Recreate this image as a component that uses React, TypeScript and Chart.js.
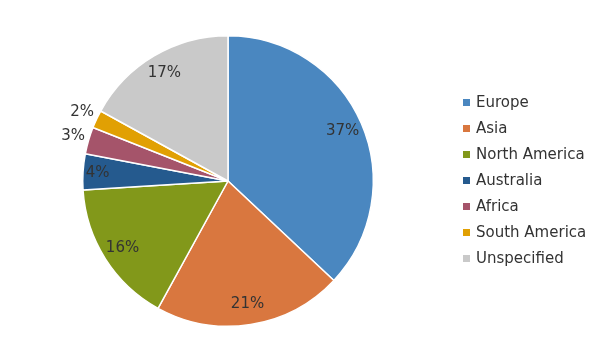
import React, { useEffect, useRef } from "react";
import { Chart, registerables } from "chart.js";

Chart.register(...registerables);

const regions = ["Europe", "Asia", "North America", "Australia", "Africa", "South America", "Unspecified"];
const shares = [37, 21, 16, 4, 3, 2, 17];
const sliceColors = ["#4a87c0", "#d9773f", "#82981a", "#255a8e", "#a5546a", "#e1a003", "#c9c9c9"];

const FONT = '"DejaVu Sans", sans-serif';
const TEXT_COLOR = "#333333";

const pctLabelPlugin = {
  id: "pctLabels",
  afterDatasetsDraw(chart: any) {
    const ctx = chart.ctx;
    const meta = chart.getDatasetMeta(0);
    ctx.save();
    ctx.font = `15px ${FONT}`;
    ctx.fillStyle = TEXT_COLOR;
    ctx.textAlign = "center";
    ctx.textBaseline = "middle";
    meta.data.forEach((arc: any, i: number) => {
      const p = arc.getProps(["x", "y", "startAngle", "endAngle", "outerRadius"], true);
      const mid = (p.startAngle + p.endAngle) / 2;
      const v = shares[i];
      const f = v < 4 ? 1.11 : v === 4 ? 0.9 : 0.86;
      const r = p.outerRadius * f;
      ctx.fillText(`${v}%`, p.x + Math.cos(mid) * r, p.y + Math.sin(mid) * r);
    });
    ctx.restore();
  },
};

const legendPlugin = {
  id: "sideLegend",
  afterDraw(chart: any) {
    const ctx = chart.ctx;
    const x0 = 463;
    const y0 = 103;
    const step = 26;
    ctx.save();
    ctx.font = `15px ${FONT}`;
    ctx.textBaseline = "middle";
    ctx.textAlign = "left";
    regions.forEach((name, i) => {
      const y = y0 + i * step;
      ctx.fillStyle = sliceColors[i];
      ctx.fillRect(x0, y - 4, 7, 7);
      ctx.fillStyle = TEXT_COLOR;
      ctx.fillText(name, x0 + 13, y);
    });
    ctx.restore();
  },
};

export default function App() {
  const ref = useRef<HTMLCanvasElement>(null);
  useEffect(() => {
    if (!ref.current) return;
    const chart = new Chart(ref.current, {
      type: "pie",
      data: {
        labels: regions,
        datasets: [
          {
            data: shares,
            backgroundColor: sliceColors,
            borderColor: "#ffffff",
            borderWidth: 1.5,
          },
        ],
      },
      options: {
        animation: false,
        responsive: true,
        maintainAspectRatio: false,
        layout: { padding: { left: 82, right: 226, top: 35, bottom: 34 } },
        plugins: {
          legend: { display: false },
          tooltip: { enabled: false },
        },
      },
      plugins: [pctLabelPlugin, legendPlugin],
    });
    return () => chart.destroy();
  }, []);
  return (
    <div style={{ position: "absolute", left: 0, top: 0, width: 600, height: 361, background: "#fff" }}>
      <canvas ref={ref} />
    </div>
  );
}
